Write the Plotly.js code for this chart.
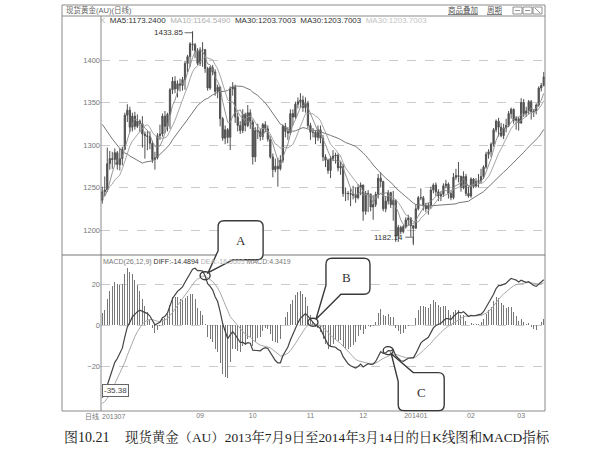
<!DOCTYPE html>
<html>
<head>
<meta charset="utf-8">
<script src="https://cdn.plot.ly/plotly-3.0.1.min.js"></script>
<style>
html, body { margin: 0; padding: 0; background: #ffffff; }
#chart { width: 611px; height: 465px; }
</style>
</head>
<body>
<div id="chart"></div>
<script>
// Spot gold (AU), daily bars from 2013-07-09 to 2014-03-14
const firstDay = '2013-07-09';
const lastDay = '2014-03-14';
const holidays = ['2013-12-25', '2014-01-01'];

const open = [
  1235, 1245, 1247, 1278, 1284, 1283, 1291, 1277, 1284, 1295, 1335, 1341, 1321, 1334, 1322, 1328, 1325,
  1313, 1311, 1310, 1302, 1283, 1285, 1311, 1313, 1334, 1322, 1336, 1365, 1375, 1366, 1372, 1370, 1377, 1396, 1404, 1419, 1418, 1411,
  1396, 1412, 1412, 1390, 1367, 1391, 1386, 1363, 1368, 1331, 1308, 1318, 1309, 1366, 1368, 1333, 1323, 1317, 1336, 1323, 1338,
  1327, 1286, 1317, 1316, 1310, 1324, 1319, 1307, 1286, 1271, 1275, 1272, 1282, 1322, 1316, 1314, 1337, 1333, 1348, 1351, 1353, 1344, 1349,
  1323, 1315, 1315, 1309, 1318, 1308, 1286, 1282, 1270, 1284, 1287, 1288, 1273, 1275, 1243, 1243, 1243, 1242, 1241, 1238, 1250,
  1253, 1222, 1243, 1242, 1227, 1230, 1242, 1261, 1257, 1225, 1234, 1244, 1230, 1235, 1193, 1203, 1198, 1204, 1212, 1214, 1205,
  1202, 1225, 1238, 1238, 1229, 1225, 1229, 1247, 1253, 1245, 1240, 1242, 1252, 1254, 1243, 1238, 1262, 1264, 1263, 1250, 1263, 1243,
  1240, 1260, 1252, 1257, 1258, 1263, 1274, 1289, 1292, 1301, 1318, 1328, 1321, 1311, 1320, 1323, 1337, 1342, 1329, 1331,
  1326, 1350, 1337, 1340, 1351, 1339, 1340, 1347, 1367, 1370
];
const high = [
  1251, 1263, 1297, 1293, 1292, 1296, 1293, 1296, 1298, 1338, 1348, 1345, 1338, 1339, 1336, 1330, 1334,
  1316, 1317, 1316, 1305, 1292, 1314, 1324, 1337, 1340, 1338, 1367, 1380, 1381, 1376, 1378, 1380, 1399, 1406, 1421, 1433.85, 1420, 1414,
  1415, 1421, 1413, 1392, 1393, 1394, 1389, 1371, 1369, 1333, 1323, 1320, 1369, 1374, 1371, 1338, 1328, 1342, 1338, 1347, 1342,
  1330, 1321, 1325, 1319, 1326, 1328, 1323, 1310, 1290, 1284, 1285, 1288, 1324, 1326, 1321, 1342, 1342, 1351, 1356, 1361, 1358, 1356, 1352,
  1326, 1320, 1317, 1323, 1323, 1312, 1289, 1284, 1287, 1294, 1291, 1290, 1280, 1278, 1250, 1246, 1249, 1252, 1250, 1254, 1256,
  1253, 1246, 1247, 1243, 1241, 1245, 1266, 1268, 1258, 1240, 1247, 1245, 1246, 1236, 1206, 1205, 1206, 1215, 1218, 1215, 1206,
  1230, 1240, 1249, 1240, 1232, 1232, 1251, 1255, 1256, 1248, 1245, 1255, 1259, 1256, 1245, 1267, 1272, 1280, 1264, 1269, 1266, 1251,
  1262, 1261, 1261, 1266, 1272, 1276, 1292, 1295, 1303, 1320, 1330, 1332, 1326, 1325, 1331, 1340, 1344, 1343, 1334, 1333,
  1355, 1354, 1345, 1353, 1353, 1342, 1349, 1369, 1373, 1386
];
const low = [
  1231, 1240, 1245, 1271, 1272, 1277, 1271, 1270, 1276, 1294, 1327, 1315, 1316, 1318, 1320, 1315, 1297,
  1284, 1294, 1295, 1279, 1271, 1283, 1306, 1310, 1314, 1316, 1319, 1360, 1361, 1356, 1363, 1364, 1365, 1386, 1392, 1411, 1402, 1394,
  1393, 1392, 1385, 1364, 1365, 1382, 1358, 1355, 1322, 1305, 1301, 1302, 1294, 1358, 1326, 1316, 1313, 1314, 1316, 1321, 1319,
  1277, 1280, 1307, 1305, 1306, 1315, 1304, 1284, 1262, 1268, 1251, 1270, 1279, 1309, 1306, 1312, 1323, 1331, 1343, 1344, 1339, 1338, 1320,
  1306, 1309, 1301, 1305, 1302, 1281, 1274, 1266, 1261, 1281, 1278, 1269, 1265, 1239, 1234, 1235, 1228, 1236, 1232, 1236, 1241,
  1211, 1218, 1221, 1222, 1212, 1227, 1237, 1250, 1222, 1221, 1230, 1226, 1211, 1186, 1186, 1195, 1196, 1202, 1205, 1192, 1182.14,
  1202, 1223, 1235, 1223, 1221, 1218, 1225, 1243, 1240, 1234, 1234, 1239, 1249, 1237, 1235, 1236, 1259, 1256, 1245, 1248, 1240, 1238,
  1238, 1249, 1250, 1250, 1255, 1260, 1272, 1284, 1286, 1298, 1315, 1310, 1309, 1307, 1315, 1321, 1331, 1325, 1318, 1317,
  1325, 1333, 1333, 1336, 1330, 1333, 1336, 1345, 1363, 1369
];
const close = [
  1245, 1247, 1278, 1284, 1283, 1291, 1277, 1284, 1295, 1335, 1341, 1321, 1334, 1322, 1328, 1325, 1313,
  1311, 1310, 1302, 1283, 1285, 1311, 1313, 1334, 1322, 1336, 1365, 1375, 1366, 1372, 1370, 1377, 1396, 1404, 1419, 1418, 1411, 1396,
  1412, 1412, 1390, 1367, 1391, 1386, 1363, 1368, 1331, 1308, 1318, 1309, 1366, 1368, 1333, 1323, 1317, 1336, 1323, 1338, 1327,
  1286, 1317, 1316, 1310, 1324, 1319, 1307, 1286, 1271, 1275, 1272, 1282, 1322, 1316, 1314, 1337, 1333, 1348, 1351, 1353, 1344, 1349, 1323,
  1315, 1315, 1309, 1318, 1308, 1286, 1282, 1270, 1284, 1287, 1288, 1273, 1275, 1243, 1243, 1243, 1242, 1241, 1238, 1250, 1253,
  1222, 1243, 1242, 1227, 1230, 1242, 1261, 1257, 1225, 1234, 1244, 1230, 1235, 1193, 1203, 1198, 1204, 1212, 1214, 1205, 1202,
  1225, 1238, 1238, 1229, 1225, 1229, 1247, 1253, 1245, 1240, 1242, 1252, 1254, 1243, 1238, 1262, 1264, 1263, 1250, 1263, 1243, 1240,
  1260, 1252, 1257, 1258, 1263, 1274, 1289, 1292, 1301, 1318, 1328, 1321, 1311, 1320, 1323, 1337, 1342, 1329, 1331, 1326,
  1350, 1337, 1340, 1351, 1339, 1340, 1347, 1367, 1370, 1380
];

// closes of the 29 sessions before the first bar, needed by the moving averages
const priorClose = [
  1392, 1411, 1393, 1412, 1398, 1398, 1415, 1383, 1385, 1377, 1391, 1387, 1388, 1383, 1367,
  1348, 1277, 1296, 1277, 1275, 1229, 1212, 1234, 1255, 1242, 1251, 1252, 1223, 1235
];
// EMA12, EMA26 and DEA as they stood after the session before the first bar
const macdSeed = [1260.09, 1297, -39];

const maPeriods = [5, 10, 30];
const calloutLabels = ['A', 'B', 'C'];
const calloutDates = ['2013-09-04', '2013-11-04', '2013-12-16'];

const priceTicks = [1200, 1250, 1300, 1350, 1400];
const macdTicks = [-20, 0, 20];

const headerText = '<span style="color:#b0b0b0">K</span>  MA5:1173.2400  <span style="color:#b0b0b0">MA10:1164.5490</span>  MA30:1203.7003  MA30:1203.7003  <span style="color:#c4c4c4">MA30:1203.7003</span>';
const macdHeaderText = '<span style="color:#777">MACD(26,12,9)</span> DIFF:-14.4894 <span style="color:#b0b0b0">DEA:-16.5603</span> <span style="color:#777">MACD:4.3419</span>';
const windowTitle = '现货黄金(AU)(日线)';
const figureNo = '图10.21';
const caption = '现货黄金（AU）2013年7月9日至2014年3月14日的日K线图和MACD指标';

// ---------------------------------------------------------------------------
function sessions(a, b, skip) {
  const out = [];
  const d = new Date(a + 'T00:00:00Z');
  const end = new Date(b + 'T00:00:00Z');
  while (d <= end) {
    const w = d.getUTCDay();
    const s = d.toISOString().slice(0, 10);
    if (w !== 0 && w !== 6 && skip.indexOf(s) < 0) out.push(s);
    d.setUTCDate(d.getUTCDate() + 1);
  }
  return out;
}
const dates = sessions(firstDay, lastDay, holidays);
const idx = close.map((_, i) => i);

// moving averages
const allClose = priorClose.concat(close);
const off = priorClose.length;
function movingAverage(n) {
  return close.map((_, i) => {
    let s = 0;
    for (let k = i + off - n + 1; k <= i + off; k++) s += allClose[k];
    return s / n;
  });
}
const ma = maPeriods.map(movingAverage);

// MACD(26,12,9)
const diff = [], dea = [], bar = [];
(function () {
  let e12 = macdSeed[0], e26 = macdSeed[1], d9 = macdSeed[2];
  close.forEach(c => {
    e12 += (c - e12) * 2 / 13;
    e26 += (c - e26) * 2 / 27;
    const d = e12 - e26;
    d9 += (d - d9) * 2 / 10;
    diff.push(d); dea.push(d9); bar.push(2 * (d - d9));
  });
})();

// month ticks
const tickVals = [], tickText = [];
dates.forEach((s, i) => {
  if (i === 0) return;
  if (s.slice(5, 7) !== dates[i - 1].slice(5, 7)) {
    const m = s.slice(5, 7);
    if (m === '08') return;
    tickVals.push(i);
    tickText.push(m === '01' ? s.slice(0, 4) + m : m);
  }
});

// ---------------------------------------------------------------------------
// plot-area geometry (pixels)
const W = 611, H = 465;
const PL = 101, PR = 545, PT = 17, PB = 410;
const split = 255;
const px = x => (x - PL) / (PR - PL);
const py = y => (PB - y) / (PB - PT);

const FONT = 'Liberation Sans, Noto Sans CJK SC, sans-serif';
const SERIF = 'Liberation Serif, Noto Serif CJK SC, Noto Sans CJK SC, serif';

const traces = [
  {
    type: 'candlestick', x: idx, open: open, high: high, low: low, close: close,
    xaxis: 'x', yaxis: 'y', whiskerwidth: 0,
    increasing: { line: { color: '#505050', width: 1 }, fillcolor: '#505050' },
    decreasing: { line: { color: '#505050', width: 1 }, fillcolor: '#505050' },
    hoverinfo: 'skip'
  },
  { type: 'scatter', mode: 'lines', x: idx, y: ma[2], xaxis: 'x', yaxis: 'y',
    line: { color: '#777', width: 1 }, hoverinfo: 'skip' },
  { type: 'scatter', mode: 'lines', x: idx, y: ma[1], xaxis: 'x', yaxis: 'y',
    line: { color: '#9c9c9c', width: 0.9 }, hoverinfo: 'skip' },
  { type: 'scatter', mode: 'lines', x: idx, y: ma[0], xaxis: 'x', yaxis: 'y',
    line: { color: '#888', width: 0.9 }, hoverinfo: 'skip' },
  { type: 'bar', x: idx, y: bar, xaxis: 'x', yaxis: 'y2', width: 0.4,
    marker: { color: '#777', line: { width: 0 } }, hoverinfo: 'skip' },
  { type: 'scatter', mode: 'lines', x: idx, y: dea, xaxis: 'x', yaxis: 'y2',
    line: { color: '#a8a8a8', width: 1 }, hoverinfo: 'skip' },
  { type: 'scatter', mode: 'lines', x: idx, y: diff, xaxis: 'x', yaxis: 'y2',
    line: { color: '#444', width: 1.2 }, hoverinfo: 'skip' }
];

// frame and window chrome
const lineC = '#8a8a8a';
const shapes = [
  { type: 'rect', xref: 'paper', yref: 'paper', x0: px(62), x1: px(545), y0: py(5), y1: py(411),
    line: { color: lineC, width: 1 }, layer: 'above' },
  { type: 'line', xref: 'paper', yref: 'paper', x0: px(62), x1: px(545), y0: py(16), y1: py(16),
    line: { color: lineC, width: 1 }, layer: 'above' },
  { type: 'line', xref: 'paper', yref: 'paper', x0: px(101), x1: px(101), y0: py(16), y1: py(411),
    line: { color: lineC, width: 1 }, layer: 'above' },
  { type: 'line', xref: 'paper', yref: 'paper', x0: px(62), x1: px(545), y0: py(split), y1: py(split),
    line: { color: '#777', width: 1.2 }, layer: 'above' }
];
[513, 523, 533].forEach((x, k) => {
  shapes.push({ type: 'rect', xref: 'paper', yref: 'paper', x0: px(x), x1: px(x + 9), y0: py(7), y1: py(14),
    line: { color: '#777', width: 0.8 }, layer: 'above' });
  shapes.push({ type: 'line', xref: 'paper', yref: 'paper', x0: px(x + 2), x1: px(x + 7),
    y0: py(k === 2 ? 8 : 10.5), y1: py(k === 2 ? 13 : 10.5), line: { color: '#777', width: 0.8 }, layer: 'above' });
});

// connector ticks for the extreme-price labels
const hiVal = Math.max.apply(null, high), hiIdx = high.indexOf(hiVal);
const loVal = Math.min.apply(null, low), loIdx = low.indexOf(loVal);
shapes.push({ type: 'path', xref: 'x', yref: 'y', xsizemode: 'pixel', ysizemode: 'pixel',
  xanchor: hiIdx, yanchor: hiVal, path: 'M-8,-1.5 H0 V-7', line: { color: '#444', width: 0.8 }, layer: 'above' });
shapes.push({ type: 'path', xref: 'x', yref: 'y', xsizemode: 'pixel', ysizemode: 'pixel',
  xanchor: loIdx, yanchor: loVal, path: 'M-8,8 H0 V2', line: { color: '#444', width: 0.8 }, layer: 'above' });

// callout bubbles (screen-pixel offsets from the marked crossing)
const bubbleGeom = {
  A: { L: 13, R: 58, T: -55, B: -16, tip: [3, -3], tail: 'bottom', tx: 36, ty: -35 },
  B: { L: 13, R: 57, T: -64, B: -28, tip: [3, -3], tail: 'bottom', tx: 34, ty: -45 },
  C: { L: 10, R: 56, T: 22, B: 60, tip: [3, 3], tail: 'top', tx: 33, ty: 42 }
};
function bubblePath(g, cx, cy) {
  const r = 6;
  const P = (x, y) => px(cx + x).toFixed(5) + ',' + py(cy + y).toFixed(5);
  if (g.tail === 'bottom') {
    return 'M' + P(g.L + r, g.T) + ' L' + P(g.R - r, g.T) + ' Q' + P(g.R, g.T) + ' ' + P(g.R, g.T + r) +
      ' L' + P(g.R, g.B - r) + ' Q' + P(g.R, g.B) + ' ' + P(g.R - r, g.B) +
      ' L' + P(g.L + 15, g.B) + ' L' + P(g.tip[0], g.tip[1]) + ' L' + P(g.L, g.B - 9) +
      ' L' + P(g.L, g.T + r) + ' Q' + P(g.L, g.T) + ' ' + P(g.L + r, g.T) + ' Z';
  }
  return 'M' + P(g.L + 15, g.T) + ' L' + P(g.R - r, g.T) + ' Q' + P(g.R, g.T) + ' ' + P(g.R, g.T + r) +
    ' L' + P(g.R, g.B - r) + ' Q' + P(g.R, g.B) + ' ' + P(g.R - r, g.B) +
    ' L' + P(g.L + r, g.B) + ' Q' + P(g.L, g.B) + ' ' + P(g.L, g.B - r) +
    ' L' + P(g.L, g.T + 9) + ' L' + P(g.tip[0], g.tip[1]) + ' Z';
}

const annotations = [];
calloutLabels.forEach((lab, k) => {
  const i = dates.indexOf(calloutDates[k]);
  const g = bubbleGeom[lab];
  annotations.push({ x: i, y: diff[i], xref: 'x', yref: 'y2', xshift: g.tx, yshift: -g.ty,
    text: lab, showarrow: false, font: { family: SERIF, size: 13, color: '#333' } });
});

// text
const dMin = Math.min.apply(null, diff), dMinIdx = diff.indexOf(dMin);
annotations.push(
  { xref: 'paper', yref: 'paper', x: px(64), y: py(10.5), xanchor: 'left', yanchor: 'middle', showarrow: false,
    text: windowTitle, font: { family: FONT, size: 7.5, color: '#666' } },
  { xref: 'paper', yref: 'paper', x: px(446), y: py(10.5), xanchor: 'left', yanchor: 'middle', showarrow: false,
    text: '<u>商品叠加</u>', font: { family: FONT, size: 7.5, color: '#555' } },
  { xref: 'paper', yref: 'paper', x: px(485), y: py(10.5), xanchor: 'left', yanchor: 'middle', showarrow: false,
    text: '<u>周期</u>', font: { family: FONT, size: 7.5, color: '#555' } },
  { xref: 'paper', yref: 'paper', x: px(98), y: py(21), xanchor: 'left', yanchor: 'middle', showarrow: false,
    text: headerText, font: { family: FONT, size: 8, color: '#333' } },
  { xref: 'paper', yref: 'paper', x: px(101), y: py(262), xanchor: 'left', yanchor: 'middle', showarrow: false,
    text: macdHeaderText, font: { family: FONT, size: 7, color: '#333' } },
  { x: hiIdx, y: hiVal, xref: 'x', yref: 'y', xanchor: 'right', yanchor: 'middle', xshift: -8, yshift: -1.5,
    showarrow: false, text: hiVal.toFixed(2), font: { family: FONT, size: 8, color: '#333' } },
  { x: loIdx, y: loVal, xref: 'x', yref: 'y', xanchor: 'right', yanchor: 'middle', xshift: -8, yshift: 8,
    showarrow: false, text: loVal.toFixed(2), font: { family: FONT, size: 8, color: '#333' } },
  { x: dMinIdx, y: dMin, xref: 'x', yref: 'y2', xanchor: 'left', yanchor: 'bottom', yshift: 1,
    showarrow: false, text: dMin.toFixed(2), bgcolor: '#fff', bordercolor: '#666', borderwidth: 1, borderpad: 1,
    font: { family: FONT, size: 8, color: '#444' } },
  { xref: 'paper', yref: 'paper', x: px(83), y: py(416.5), xanchor: 'left', yanchor: 'middle', showarrow: false,
    text: '日线', font: { family: FONT, size: 7, color: '#777' } },
  { xref: 'paper', yref: 'paper', x: px(100), y: py(416.5), xanchor: 'left', yanchor: 'middle', showarrow: false,
    text: dates[0].slice(0, 4) + dates[0].slice(5, 7), font: { family: FONT, size: 7, color: '#777' } },
  { xref: 'paper', yref: 'paper', x: px(62), y: py(437), xanchor: 'left', yanchor: 'middle', showarrow: false,
    text: figureNo, font: { family: SERIF, size: 14, color: '#222' } },
  { xref: 'paper', yref: 'paper', x: px(123), y: py(437), xanchor: 'left', yanchor: 'middle', showarrow: false,
    text: caption, font: { family: SERIF, size: 13.4, color: '#222' } }
);

const layout = {
  width: W, height: H,
  margin: { l: PL, r: W - PR, t: PT, b: H - PB, pad: 0 },
  paper_bgcolor: '#ffffff', plot_bgcolor: '#ffffff',
  showlegend: false, bargap: 0,
  font: { family: FONT, size: 8, color: '#666' },
  xaxis: {
    anchor: 'y2', range: [-0.5, close.length - 0.5], showgrid: false, zeroline: false,
    rangeslider: { visible: false }, ticks: '', tickvals: tickVals, ticktext: tickText,
    tickfont: { family: FONT, size: 7, color: '#777' }, showline: false, fixedrange: true
  },
  yaxis: {
    domain: [py(split), 1], range: [1170.6, 1450.6], tickvals: priceTicks, ticks: '',
    showgrid: true, gridcolor: '#bdbdbd', griddash: 'dash', gridwidth: 0.8, zeroline: false,
    tickfont: { family: FONT, size: 7.5, color: '#777' }, showline: false
  },
  yaxis2: {
    domain: [0, py(split)], range: [-41.46, 34.15], tickvals: macdTicks, ticks: '',
    showgrid: true, gridcolor: '#bdbdbd', griddash: 'dash', gridwidth: 0.8, zeroline: false,
    tickfont: { family: FONT, size: 7.5, color: '#777' }, showline: false
  },
  shapes: shapes,
  annotations: annotations
};

Plotly.newPlot('chart', traces, layout, { staticPlot: true, displayModeBar: false }).then(gd => {
  // place the callouts with the axes' own scales so they can spill across panels
  const fl = gd._fullLayout, xa = fl.xaxis, ya = fl.yaxis2;
  const extra = [];
  calloutLabels.forEach((lab, k) => {
    const i = dates.indexOf(calloutDates[k]);
    const cx = xa._offset + xa.l2p(i), cy = ya._offset + ya.l2p(diff[i]);
    extra.push({ type: 'path', xref: 'paper', yref: 'paper', path: bubblePath(bubbleGeom[lab], cx, cy),
      fillcolor: '#ffffff', line: { color: '#3a3a3a', width: 1.4 }, layer: 'above' });
    extra.push({ type: 'circle', xref: 'x', yref: 'y2', xsizemode: 'pixel', ysizemode: 'pixel',
      xanchor: i, yanchor: diff[i], x0: -5, x1: 5, y0: -4, y1: 4,
      line: { color: '#3a3a3a', width: 1.4 }, layer: 'above' });
  });
  return Plotly.relayout(gd, { shapes: shapes.concat(extra) });
});
</script>
</body>
</html>
